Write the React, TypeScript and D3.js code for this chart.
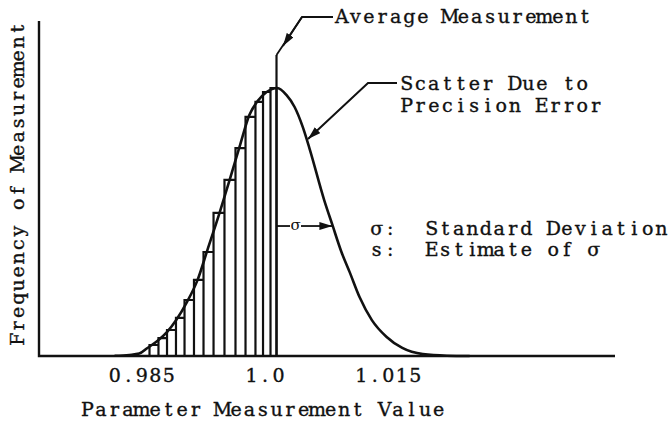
import React from "react";
import * as d3 from "d3";

const curveX = [0.9817, 0.9835, 0.9847, 0.9857, 0.9869, 0.9881, 0.9892, 0.9905, 0.9918, 0.9930, 0.9945, 0.9957, 0.9969, 0.9981, 0.9991, 1.0002, 1.0015, 1.0026, 1.0036, 1.0046, 1.0054, 1.0072, 1.0082, 1.0093, 1.0103, 1.0115, 1.0130, 1.0148, 1.0167, 1.0192, 1.0221, 1.0249];
const curveY = [0.1, 0.4, 0.9, 3.0, 5.6, 9.0, 13.4, 20.1, 28.4, 39.6, 53.7, 65.7, 78.0, 89.9, 95.1, 98.5, 100, 97.4, 92.9, 85.4, 77.6, 58.2, 48.9, 38.8, 31.3, 22.0, 13.4, 7.1, 3.0, 0.7, 0.1, 0];

// Histogram (sample) bins: edges and heights
const binEdges = [0.98595, 0.98704, 0.98808, 0.98917, 0.99021, 0.99136, 0.99252, 0.99374, 0.99507, 0.99641, 0.99763, 0.99884, 0.99976, 1.00067, 1.0014];
const binHeights = [4.1, 6.7, 9.7, 14.2, 20.9, 28.4, 38.8, 53.4, 65.7, 77.6, 89.2, 94.8, 98.5, 100];

const averageMeasurement = 1.0014;
const sigmaValue = 0.0068;

const xTickValues = [0.985, 1.0, 1.015];
const xTickLabels = ["0.985", "1.0", "1.015"];

const legendKeys = ["σ:", "s:"];
const legendTexts = ["Standard Deviation", "Estimate of σ"];

const FONT = "'DejaVu Serif', 'Liberation Serif', serif";
const PITCH = 13.5;

type MTProps = {
  text: string;
  x: number;
  y: number;
  anchor?: "start" | "middle";
  pitch?: number;
  size?: number;
  transform?: string;
};

function MonoText({ text, x, y, anchor = "start", pitch = PITCH, size = 19, transform }: MTProps) {
  const chars = Array.from(text);
  const start = anchor === "middle" ? x - (pitch * chars.length) / 2 : x;
  const xs = chars.map((_, i) => (start + pitch * (i + 0.5)).toFixed(2)).join(" ");
  return (
    <text
      x={xs}
      y={y}
      transform={transform}
      textAnchor="middle"
      style={{
        fontFamily: FONT,
        fontSize: size,
        fill: "#111",
        stroke: "#111",
        strokeWidth: 0.35,
        whiteSpace: "pre",
      }}
      xmlSpace="preserve"
    >
      {text}
    </text>
  );
}

export default function App() {
  const x = d3.scaleLinear().domain([0.985, 1.015]).range([141.7, 388.3]);
  const y = d3.scaleLinear().domain([0, 125]).range([356, 21]);

  const x0 = 39;
  const xEnd = 615;
  const base = y(0);

  const pts: [number, number][] = curveX.map((v, i) => [x(v), y(curveY[i])]);
  const line = d3
    .line<[number, number]>()
    .x((d) => d[0])
    .y((d) => d[1])
    .curve(d3.curveMonotoneX);

  // histogram staircase
  let hist = "";
  binHeights.forEach((h, i) => {
    const xa = x(binEdges[i]);
    const xb = x(binEdges[i + 1]);
    hist += `M${xa},${base}V${y(h)}H${xb}V${base}`;
  });

  const ax = x(averageMeasurement);
  const sigY = y(48.5);
  const sigTip = x(averageMeasurement + sigmaValue);

  return (
    <svg
      width={671}
      height={422}
      style={{ position: "absolute", left: 0, top: 0, background: "#fff" }}
    >
      <defs>
        <marker
          id="arr"
          markerUnits="userSpaceOnUse"
          markerWidth={14}
          markerHeight={8}
          refX={13}
          refY={4}
          orient="auto"
        >
          <path d="M0,0L13,4L0,8Z" fill="#111" />
        </marker>
      </defs>

      {/* axes */}
      <path
        d={`M${x0},${y(125)}V${base}H${xEnd}`}
        fill="none"
        stroke="#111"
        strokeWidth={2.4}
      />

      {/* histogram */}
      <path d={hist} fill="none" stroke="#111" strokeWidth={2.2} />

      {/* curve */}
      <path d={line(pts) || ""} fill="none" stroke="#111" strokeWidth={2.6} />

      {/* average measurement line */}
      <line x1={ax} y1={base} x2={ax} y2={55} stroke="#111" strokeWidth={2.2} />
      <polyline
        points={`333,17 302,17 ${ax},55`}
        fill="none"
        stroke="#111"
        strokeWidth={1.8}
      />
      <line
        x1={302}
        y1={17}
        x2={283}
        y2={46}
        stroke="#111"
        strokeWidth={1.8}
        markerEnd="url(#arr)"
      />
      <MonoText text="Average Measurement" x={335} y={23} />

      {/* scatter leader */}
      <polyline
        points="397,83 368,83 308,139"
        fill="none"
        stroke="#111"
        strokeWidth={2}
        markerEnd="url(#arr)"
      />
      <MonoText text="Scatter Due to" x={400} y={90} />
      <MonoText text="Precision Error" x={400} y={112} />

      {/* sigma marker */}
      <line x1={ax} y1={sigY} x2={290} y2={sigY} stroke="#111" strokeWidth={1.8} />
      <text
        x={295.5}
        y={sigY + 4}
        textAnchor="middle"
        style={{ fontFamily: FONT, fontSize: 15, fill: "#111" }}
      >
        σ
      </text>
      <line
        x1={301}
        y1={sigY}
        x2={sigTip}
        y2={sigY}
        stroke="#111"
        strokeWidth={1.8}
        markerEnd="url(#arr)"
      />

      {/* legend */}
      {legendKeys.map((k, i) => (
        <g key={k}>
          <MonoText text={k} x={370} y={235 + i * 21} />
          <MonoText text={legendTexts[i]} x={425} y={235 + i * 21} />
        </g>
      ))}

      {/* x tick labels */}
      {xTickValues.map((v, i) => (
        <MonoText key={v} text={xTickLabels[i]} x={x(v)} y={382} anchor="middle" />
      ))}

      {/* axis titles */}
      <MonoText text="Parameter Measurement Value" x={263} y={416} anchor="middle" />
      <MonoText
        text="Frequency of Measurement"
        x={0}
        y={0}
        anchor="middle"
        transform="translate(24,184) rotate(-90)"
      />
    </svg>
  );
}
